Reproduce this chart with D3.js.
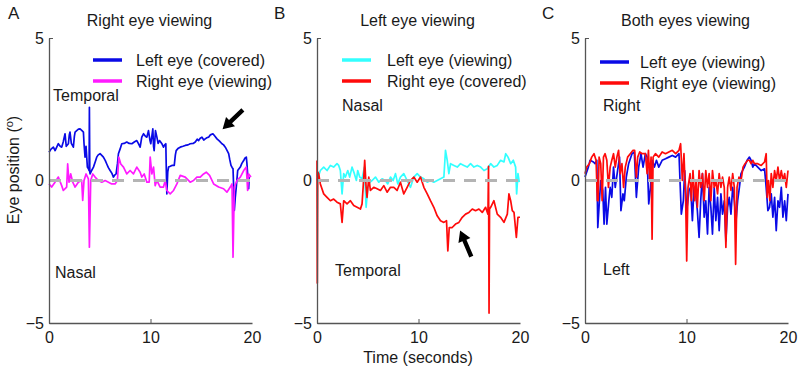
<!DOCTYPE html>
<html><head><meta charset="utf-8">
<script src="https://cdn.jsdelivr.net/npm/d3@7/dist/d3.min.js"></script>
<style>body{margin:0;background:#fff}svg{display:block;font-family:"Liberation Sans",Arial,sans-serif}</style>
</head><body><svg id="c" width="800" height="370"></svg>
<script>
// ---------- data ----------
const xTicks = [0, 10, 20];
const yTicks = [-5, 0, 5];
const panelLetters = ["A", "B", "C"];
const panelTitles = ["Right eye viewing", "Left eye viewing", "Both eyes viewing"];
const legendA = ["Left eye (covered)", "Right eye (viewing)"];
const legendB = ["Left eye (viewing)", "Right eye (covered)"];
const legendC = ["Left eye (viewing)", "Right eye (viewing)"];
const upperLabels = ["Temporal", "Nasal", "Right"];
const lowerLabels = ["Nasal", "Temporal", "Left"];

// Panel A – left eye (covered), blue
const aBlueT = [0,0.2,0.43,0.6,0.92,1.1,1.25,1.4,1.58,1.7,1.91,2.0,2.07,2.2,2.4,2.5,2.57,2.73,2.9,3.06,3.25,3.39,3.45,3.55,3.65,3.78,3.9,3.95,3.98,4.02,4.05,4.2,4.38,4.55,4.7,4.85,5.03,5.2,5.36,5.55,5.69,5.85,6.02,6.2,6.35,6.5,6.61,6.75,6.84,7.0,7.17,7.4,7.66,7.9,8.16,8.4,8.65,8.8,8.98,9.14,9.31,9.5,9.64,9.8,9.95,10.03,10.15,10.23,10.3,10.36,10.49,10.63,10.75,10.89,11.0,11.12,11.28,11.4,11.51,11.55,11.61,11.7,11.78,11.95,12.11,12.34,12.45,12.53,12.7,12.93,13.2,13.42,13.7,13.91,14.2,14.41,14.6,14.74,14.9,15.07,15.25,15.39,15.55,15.72,15.9,16.15,16.35,16.55,16.8,17.04,17.2,17.37,17.55,17.7,17.8,17.93,18.05,18.13,18.2,18.26,18.35,18.45,18.59,18.7,18.85,19.0,19.18,19.3,19.44,19.5,19.57,19.62,19.67,19.72,19.77];
const aBlueV = [0.99,1.1,1.17,1.05,1.29,1.2,1.17,1.35,1.64,1.2,1.29,1.6,1.7,1.3,1.17,1.55,1.7,1.75,1.8,1.81,1.75,1.7,1.3,0.82,1.2,0.47,0.4,0.35,2.57,0.3,0.23,0.35,0.47,0.65,0.82,0.9,0.94,0.88,0.82,0.7,0.58,0.45,0.35,0.25,0.12,0.2,0.23,0.6,0.94,1.1,1.29,1.3,1.35,1.3,1.29,1.35,1.4,1.3,1.17,1.52,1.64,1.55,1.52,1.75,1.4,1.29,1.6,1.81,1.2,1.05,1.75,1.52,1.3,1.4,1.35,1.29,1.17,1.25,1.29,0.5,-0.47,0.3,0.47,0.5,0.53,0.53,0.9,1.05,1.12,1.17,1.2,1.23,1.25,1.29,1.3,1.35,1.45,1.4,1.48,1.52,1.42,1.46,1.5,1.52,1.6,1.64,1.55,1.46,1.38,1.29,1.25,1.17,1.05,0.94,0.75,0.53,0.45,0.41,-0.3,-1.05,-0.6,-0.23,0.35,0.4,0.47,0.6,0.7,0.78,0.82,0.6,0.23,-0.1,-0.29,0.1,0.12];
// Panel A – right eye (viewing), magenta
const aMagT = [0,0.26,0.59,0.92,1.25,1.41,1.74,1.84,1.97,2.14,2.34,2.57,2.89,3.22,3.32,3.45,3.65,3.88,3.98,4.11,4.31,4.54,4.87,5.2,5.53,5.86,6.18,6.51,6.74,6.88,7.07,7.34,7.66,7.99,8.32,8.65,8.98,9.14,9.38,9.64,9.87,9.97,10.13,10.3,10.46,10.63,10.95,11.28,11.45,11.61,11.94,12.27,12.6,12.93,13.42,13.91,14.24,14.57,14.9,15.23,15.49,15.82,16.22,16.71,17.2,17.53,17.86,18.03,18.13,18.26,18.52,18.85,19.18,19.44,19.57,19.67,19.9];
const aMagV = [-0.12,-0.23,-0.06,0.12,-0.18,-0.35,-0.23,0.58,-0.06,0.23,-0.06,-0.23,-0.06,0,-0.7,0,0.23,0.06,-2.34,0,0.23,0.12,0,-0.06,0,-0.06,-0.12,-0.12,0,0.82,0.58,0.47,0.23,0.35,0.23,0.47,0.29,0.12,0.23,-0.06,-0.06,0.82,0.23,0.47,-0.18,0,-0.23,-0.23,0,-0.35,-0.47,-0.35,-0.12,0.18,0.12,-0.06,0,0.12,0.12,0.23,0.29,0.18,-0.12,-0.23,-0.29,-0.41,-0.23,-0.12,-2.69,-0.23,0,0.12,0.35,0.47,-0.35,0.23,0.12];

// Panel B – left eye (viewing), cyan
const bCyanT = [0,0.33,0.66,0.99,1.32,1.64,1.97,2.14,2.3,2.47,2.63,2.8,3.03,3.22,3.45,3.68,3.88,4.01,4.21,4.44,4.67,4.84,5.0,5.2,5.43,5.76,6.09,6.41,6.74,6.97,7.24,7.5,7.73,7.96,8.22,8.55,8.88,9.21,9.54,9.87,10.2,10.53,10.86,11.18,11.51,11.84,12.17,12.5,12.66,12.83,12.99,13.16,13.49,13.82,14.14,14.47,14.8,15.13,15.46,15.79,16.12,16.45,16.78,17.11,17.43,17.76,18.09,18.42,18.59,18.82,19.08,19.34,19.57,19.67,19.8,19.93];
const bCyanV = [0,0.35,0.47,0.35,0.53,0.47,0.59,0.53,0.35,-0.47,0.24,0.12,0.35,0.12,0.47,0.24,0,0.35,0.12,0.06,0.47,-0.94,-0.24,-0.06,0,0.12,-0.06,0.06,0,-0.12,0.12,0,0.24,-0.12,0.12,0.24,0,-0.24,0.12,0.24,0.12,0.06,-0.06,0,-0.06,0,0.06,0.12,1.06,0.71,0.24,0.59,0.53,0.47,0.59,0.53,0.47,0.59,0.47,0.53,0.47,0.35,0.41,0.59,0.47,0.53,0.71,0.65,0.94,0.82,0.59,0.71,0.47,-0.47,0.24,-0.06];
// Panel B – right eye (covered), red
const bRedT = [0,0.03,0.07,0.16,0.33,0.66,0.99,1.32,1.64,1.97,2.3,2.47,2.63,2.96,3.29,3.62,3.95,4.28,4.44,4.61,4.7,4.84,4.93,5.1,5.26,5.59,5.92,6.25,6.58,6.91,7.24,7.57,7.89,8.22,8.55,8.88,9.21,9.54,9.87,10.2,10.53,10.86,11.18,11.51,11.84,12.17,12.5,12.76,12.89,13.03,13.32,13.65,13.98,14.31,14.64,14.97,15.3,15.62,15.95,16.28,16.61,16.84,16.9,16.95,17.0,17.11,17.43,17.76,18.09,18.42,18.75,18.91,19.08,19.24,19.41,19.64,19.8,20.0];
const bRedV = [0.7,-3.6,0.3,0.24,-0.12,-0.47,-0.59,-0.71,-0.65,-0.76,-0.82,-1.47,-0.71,-0.82,-0.71,-0.88,-0.94,-1.0,-0.82,0.12,0.71,-0.24,-0.59,0.12,-0.35,-0.24,-0.29,-0.35,-0.18,-0.41,-0.24,-0.24,-0.35,-0.06,-0.47,-0.24,0,0.12,-0.06,0.12,-0.24,-0.47,-0.71,-0.94,-1.24,-1.41,-1.47,-1.41,-2.47,-1.65,-1.65,-1.53,-1.47,-1.29,-1.18,-1.12,-1.0,-1.06,-1.0,-1.12,-0.94,-1.18,0.5,-4.65,-1.0,-0.94,-0.71,-1.18,-1.29,-1.47,-1.18,-0.47,-0.71,-1.06,-1.12,-2.0,-1.29,-1.29];

// Panel C – left eye (viewing), blue
const cBlueT = [0,0.33,0.5,0.83,0.99,1.16,1.26,1.42,1.55,1.75,1.88,2.02,2.15,2.35,2.48,2.64,2.81,2.98,3.21,3.4,3.54,3.74,3.87,4.07,4.3,4.63,4.86,5.06,5.29,5.52,5.72,5.95,6.12,6.28,6.45,6.64,6.84,7.04,7.27,7.6,7.93,8.26,8.6,8.93,9.26,9.36,9.49,9.69,9.82,10.02,10.25,10.41,10.58,10.74,10.91,11.07,11.24,11.4,11.57,11.74,11.9,12.07,12.23,12.4,12.56,12.73,12.89,13.06,13.22,13.39,13.55,13.72,13.88,14.05,14.21,14.38,14.55,14.71,14.88,15.04,15.21,15.37,15.7,15.97,16.2,16.36,16.53,16.69,17.02,17.36,17.69,17.85,18.02,18.18,18.35,18.51,18.68,18.84,19.01,19.17,19.34,19.5,19.67,19.83,20.0];
const cBlueV = [0.12,0.47,0.71,0.65,0.59,0.71,-1.65,-0.71,0,-0.35,-1.53,-0.24,-1.53,-0.71,-0.24,-0.59,0.47,-0.24,0.35,0.82,-1.06,-0.47,-0.71,0.12,0.59,0.94,1.0,-0.59,0.47,0.94,0.47,0.94,0.82,-0.82,-0.24,0.71,0.47,0.71,0.47,0.71,0.76,0.82,0.88,0.82,0.94,0,-1.18,-0.71,0.35,-1.06,-0.35,-0.24,-1.41,-0.24,-0.47,-1.06,-2.0,-0.71,0.24,-1.29,-0.71,-1.88,-0.24,-0.94,-1.88,-0.24,-1.41,-0.59,-1.76,-0.47,-1.18,-0.71,-2.12,-0.94,-0.59,-1.18,-0.24,-0.71,-1.41,-0.71,-0.24,0.24,0.47,0.71,0.82,0.71,0.47,0.59,0.47,0.35,0.41,-0.24,-1.06,-0.94,-0.47,-1.29,-0.59,-1.76,-0.71,-0.94,-0.24,-1.29,-0.71,-1.41,-0.47];
// Panel C – right eye (viewing), red
const cRedT = [0,0.17,0.43,0.66,0.89,1.09,1.22,1.29,1.39,1.55,1.69,1.82,1.98,2.15,2.31,2.48,2.64,2.81,2.98,3.14,3.31,3.47,3.64,3.8,3.97,4.2,4.46,4.73,4.89,5.06,5.19,5.39,5.62,5.79,5.95,6.12,6.25,6.38,6.51,6.61,6.71,6.94,7.27,7.6,7.93,8.26,8.6,8.93,9.26,9.42,9.59,9.75,9.92,10.02,10.15,10.35,10.48,10.64,10.81,10.94,11.07,11.24,11.4,11.57,11.74,11.9,12.07,12.23,12.4,12.56,12.73,12.89,13.06,13.22,13.39,13.55,13.72,13.88,14.05,14.21,14.38,14.55,14.71,14.84,14.98,15.17,15.37,15.57,15.77,16.03,16.2,16.36,16.53,16.69,17.02,17.36,17.69,17.85,17.95,18.08,18.21,18.35,18.51,18.68,18.84,19.01,19.17,19.34,19.5,19.67,19.83,20.0];
const cRedV = [0.24,0.47,0.59,0.82,0.94,0.71,-0.71,-0.71,0.82,0.59,-0.71,0.82,0.94,0.71,-0.24,0.47,0.71,0.94,0.47,0.82,1.06,0.24,0.59,-0.24,0.47,0.82,0.94,1.06,1.06,0.12,0.82,1.0,0.94,0.94,0.94,0.24,1.06,0,0.82,-2.06,0.82,0.94,0.82,1.0,0.94,1.0,1.06,0.94,1.06,1.29,0,0.94,-0.71,-2.82,-0.24,0.24,-0.71,0.35,-0.71,0,-0.94,0.35,-0.24,0.24,-0.71,0.35,-0.24,0.24,-0.71,0.35,-0.24,0,-0.47,0.24,-0.24,0.12,-0.24,-2.35,-0.24,0.12,-0.35,0.24,-0.24,-2.94,-0.24,0.12,0,0.47,0.59,0.71,0.71,0.59,0.71,0.59,0.59,0.53,0.65,0.94,-0.59,0,-0.71,0.24,-0.24,0.35,0,0.47,0,0.35,0,0.24,-0.24,0.35];

// arrows: [tailT, tailV, headT, headV]
const arrowA = [19.1, 2.48, 17.1, 1.8];
const arrowB = [15.2, -2.67, 14.1, -1.75];

// ---------- drawing ----------
const svg = d3.select("#c");
const panelLefts = [49, 317, 585];
const plotW = 203, plotTop = 38, plotH = 285;
const FS = 16;
const colors = {
  blue: "#0a0ae6", magenta: "#ff1aff", cyan: "#33ffff", red: "#ff0a0a",
  zero: "#b4b4b4", axis: "#555", text: "#1a1a1a"
};
const panels = [
  {series: [[aBlueT, aBlueV, colors.blue], [aMagT, aMagV, colors.magenta]], legend: legendA, arrow: arrowA},
  {series: [[bCyanT, bCyanV, colors.cyan], [bRedT, bRedV, colors.red]], legend: legendB, arrow: arrowB},
  {series: [[cBlueT, cBlueV, colors.blue], [cRedT, cRedV, colors.red]], legend: legendC, arrow: null}
];

panels.forEach((p, i) => {
  const left = panelLefts[i];
  const x = d3.scaleLinear().domain([0, 20]).range([left, left + plotW]);
  const y = d3.scaleLinear().domain([-5, 5]).range([plotTop + plotH, plotTop]);
  const g = svg.append("g");

  const line = d3.line().x(d => x(d[0])).y(d => y(d[1]));
  p.series.forEach(([T, V, col]) => {
    g.append("path").datum(T.map((t, k) => [t, V[k]]))
      .attr("d", line).attr("fill", "none").attr("stroke", col)
      .attr("stroke-width", 1.7).attr("stroke-linejoin", "round");
  });
  g.append("path").datum([[0, 0], [20, 0]]).attr("d", line)
    .attr("stroke", colors.zero).attr("stroke-width", 3).attr("stroke-dasharray", "12,9").attr("fill", "none");

  const xa = g.append("g").attr("transform", `translate(0,${plotTop + plotH})`)
    .call(d3.axisBottom(x).tickValues(xTicks).tickSize(-4).tickPadding(9).tickSizeOuter(0));
  const ya = g.append("g").attr("transform", `translate(${left},0)`)
    .call(d3.axisLeft(y).tickValues(yTicks).tickSize(-4).tickPadding(5).tickSizeOuter(0));
  [xa, ya].forEach(a => {
    a.select(".domain").attr("stroke", colors.axis).attr("stroke-width", 1.3);
    a.selectAll(".tick line").attr("stroke", colors.axis);
    a.selectAll(".tick text").attr("font-size", FS).attr("fill", colors.text)
      .attr("font-family", '"Liberation Sans", Arial, sans-serif');
  });
  ya.selectAll(".tick").filter(d => d === 0).select("line").attr("stroke", "none");
  xa.selectAll(".tick").filter(d => d === 0 || d === 20).select("line").attr("stroke", "none");

  svg.append("text").attr("x", left + plotW / 2 - 1).attr("y", 26).attr("text-anchor", "middle")
    .attr("font-size", FS).attr("fill", colors.text).text(panelTitles[i]);
  svg.append("text").attr("x", [8, 274, 542][i]).attr("y", 19)
    .attr("font-size", 17).attr("fill", colors.text).text(panelLetters[i]);

  const lx = [93, 342, 600][i], tx = [136, 387, 640][i];
  p.legend.forEach((lab, k) => {
    const ly = [60, 81][k] + (i === 2 ? 2 : 0);
    svg.append("line").attr("x1", lx).attr("x2", lx + 29).attr("y1", ly).attr("y2", ly)
      .attr("stroke", p.series[k][2]).attr("stroke-width", 3.5);
    svg.append("text").attr("x", tx).attr("y", ly + 5.5).attr("font-size", FS)
      .attr("fill", colors.text).text(lab);
  });

  svg.append("text").attr("x", [53, 342, 603][i]).attr("y", [101, 111, 111][i])
    .attr("font-size", FS).attr("fill", colors.text).text(upperLabels[i]);
  svg.append("text").attr("x", [55, 335, 603][i]).attr("y", [278, 276, 275][i])
    .attr("font-size", FS).attr("fill", colors.text).text(lowerLabels[i]);

  if (p.arrow) {
    const [t0, v0, t1, v1] = p.arrow;
    const x0 = x(t0), y0 = y(v0), x1 = x(t1), y1 = y(v1);
    const dx = x1 - x0, dy = y1 - y0, L = Math.hypot(dx, dy);
    const ux = dx / L, uy = dy / L, nx = -uy, ny = ux;
    const hl = 11, hw = 6.5, sw = 2.2;
    const bx = x1 - ux * hl, by = y1 - uy * hl;
    const pts = [
      [x0 + nx * sw, y0 + ny * sw], [bx + nx * sw, by + ny * sw], [bx + nx * hw, by + ny * hw],
      [x1, y1], [bx - nx * hw, by - ny * hw], [bx - nx * sw, by - ny * sw], [x0 - nx * sw, y0 - ny * sw]
    ];
    svg.append("polygon").attr("points", pts.map(q => q.join(",")).join(" ")).attr("fill", "#000");
  }
});

const yl = svg.append("text").attr("transform", "translate(19,170) rotate(-90)")
  .attr("text-anchor", "middle").attr("font-size", FS).attr("fill", colors.text);
yl.append("tspan").text("Eye position (");
yl.append("tspan").attr("font-size", 11).attr("dy", -6).text("o");
yl.append("tspan").attr("dy", 6).text(")");
svg.append("text").attr("x", 418).attr("y", 363).attr("text-anchor", "middle")
  .attr("font-size", FS).attr("fill", colors.text).text("Time (seconds)");
</script></body></html>
